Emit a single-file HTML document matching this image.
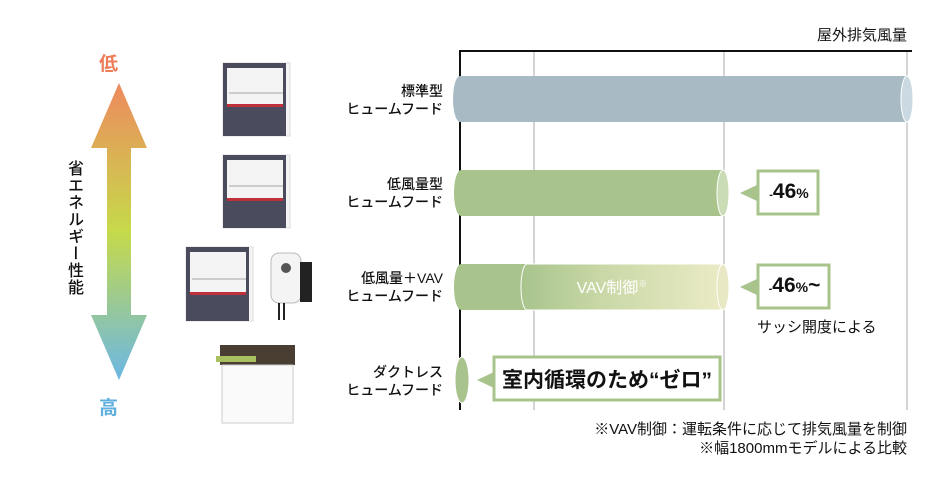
<!DOCTYPE html>
<html><head><meta charset="utf-8"><style>
body{margin:0;background:#fff;width:940px;height:480px;overflow:hidden;font-family:"Liberation Sans","Noto Sans CJK JP",sans-serif;}
.a{position:absolute}
.lbl{position:absolute;right:497px;text-align:right;font-size:14px;line-height:18px;color:#111;font-weight:500;white-space:nowrap}
</style></head><body>
<svg class="a" style="left:0;top:0" width="940" height="480">
<defs>
<linearGradient id="ag" x1="0" y1="0" x2="0" y2="1">
<stop offset="0" stop-color="#ee8a5e"/><stop offset="0.5" stop-color="#c6da4a"/><stop offset="1" stop-color="#6bb7e4"/></linearGradient>
<linearGradient id="vg" x1="0" y1="0" x2="1" y2="0">
<stop offset="0" stop-color="#a8c48c"/><stop offset="0.4" stop-color="#c9d8a6"/><stop offset="1" stop-color="#ebebc6"/></linearGradient>
</defs>
<polygon points="119,83 147,148 131,148 131,315 147,315 119,380 91,315 107,315 107,148 91,148" fill="url(#ag)"/>
<line x1="534" y1="52" x2="534" y2="410" stroke="#aaa" stroke-width="1"/>
<line x1="724" y1="52" x2="724" y2="410" stroke="#aaa" stroke-width="1"/>
<line x1="907" y1="52" x2="907" y2="410" stroke="#aaa" stroke-width="1"/>
<line x1="460" y1="51" x2="912" y2="51" stroke="#111" stroke-width="2"/>
<line x1="460" y1="50" x2="460" y2="410" stroke="#111" stroke-width="2"/>
<path d="M460,76 H907 V122 H460 A7,23 0 0 1 460,76Z" fill="#a8bbc5"/>
<ellipse cx="907" cy="99" rx="6" ry="23" fill="#cad9e2" stroke="#fff" stroke-width="1"/>
<path d="M461,170 H723 V216 H461 A7,23 0 0 1 461,170Z" fill="#a8c48c"/>
<ellipse cx="723" cy="193" rx="6" ry="23" fill="#cadcb6" stroke="#fff" stroke-width="1"/>
<path d="M461,264 H723 V310 H461 A7,23 0 0 1 461,264Z" fill="#a8c48c"/>
<path d="M527,264 H723 V310 H527 A6,23 0 0 1 527,264Z" fill="url(#vg)" stroke="#fff" stroke-width="1"/>
<ellipse cx="723" cy="287" rx="6" ry="23" fill="#e8e8c4" stroke="#fff" stroke-width="1"/>
<text x="612" y="293" font-size="16" fill="#fff" text-anchor="middle" font-family="Liberation Sans, Noto Sans CJK JP, sans-serif">VAV制御<tspan font-size="9" dy="-6">※</tspan></text>
<ellipse cx="462" cy="380" rx="7" ry="23" fill="#a8c48c" stroke="#fff"/>
<polygon points="740,193 757,185 757,201" fill="#a8c48c"/>
<rect x="758" y="171" width="60" height="43" fill="#fff" stroke="#a8c48c" stroke-width="3"/>
<polygon points="740,287 757,279 757,295" fill="#a8c48c"/>
<rect x="758" y="265" width="71" height="43" fill="#fff" stroke="#a8c48c" stroke-width="3"/>
<polygon points="477,380 494,372 494,388" fill="#a8c48c"/>
<rect x="494" y="357" width="226" height="43" fill="#fff" stroke="#a8c48c" stroke-width="3"/>
<g>
<rect x="223" y="63" width="67" height="73" fill="#f4f4f4" stroke="#ddd"/><rect x="223" y="63" width="62" height="5" rx="2" fill="#4a4c5e"/><rect x="223" y="63" width="4" height="73" fill="#4a4c5e"/><rect x="283" y="63" width="3" height="73" fill="#4a4c5e"/><rect x="229" y="92" width="54" height="2" fill="#ccc"/><rect x="227" y="104" width="56" height="3" fill="#c0303a"/><rect x="227" y="107" width="56" height="29" fill="#4a4c5e"/>
<rect x="223" y="155" width="67" height="73" fill="#f4f4f4" stroke="#ddd"/><rect x="223" y="155" width="62" height="5" rx="2" fill="#4a4c5e"/><rect x="223" y="155" width="4" height="73" fill="#4a4c5e"/><rect x="283" y="155" width="3" height="73" fill="#4a4c5e"/><rect x="229" y="185" width="54" height="2" fill="#ccc"/><rect x="227" y="198" width="56" height="3" fill="#c0303a"/><rect x="227" y="201" width="56" height="27" fill="#4a4c5e"/>
<rect x="186" y="247" width="67" height="74" fill="#f4f4f4" stroke="#ddd"/><rect x="186" y="247" width="62" height="5" rx="2" fill="#4a4c5e"/><rect x="186" y="247" width="4" height="74" fill="#4a4c5e"/><rect x="246" y="247" width="3" height="74" fill="#4a4c5e"/><rect x="192" y="278" width="54" height="2" fill="#ccc"/><rect x="190" y="292" width="56" height="3" fill="#c0303a"/><rect x="190" y="295" width="56" height="26" fill="#4a4c5e"/>
<rect x="271" y="253" width="30" height="50" rx="8" fill="#f4f4f4" stroke="#bbb"/><rect x="300" y="262" width="12" height="40" fill="#222"/><circle cx="286" cy="268" r="5" fill="#555"/><line x1="279" y1="303" x2="279" y2="320" stroke="#222" stroke-width="2"/><line x1="284" y1="303" x2="284" y2="320" stroke="#222" stroke-width="2"/>
<rect x="220" y="345" width="75" height="20" fill="#4a3e32"/><rect x="216" y="356" width="40" height="6" fill="#a8c060"/>
<rect x="222" y="365" width="71" height="58" fill="#fafafa" stroke="#ccc"/>
</g>
</svg>
<div class="a" style="left:99px;top:49px;font-size:19px;font-weight:bold;color:#ec7e5a">低</div>
<div class="a" style="left:99px;top:393px;font-size:19px;font-weight:bold;color:#5fb0dc">高</div>
<div class="a" style="left:63px;top:160px;writing-mode:vertical-rl;font-size:16px;letter-spacing:1px;font-weight:500;color:#111;line-height:20px">省エネルギー性能</div>
<div class="lbl" style="top:82px">標準型<br>ヒュームフード</div>
<div class="lbl" style="top:175px">低風量型<br>ヒュームフード</div>
<div class="lbl" style="top:269px">低風量＋VAV<br>ヒュームフード</div>
<div class="lbl" style="top:363px">ダクトレス<br>ヒュームフード</div>
<div class="a" style="right:33px;top:24px;font-size:15px;color:#111">屋外排気風量</div>
<div class="a" style="left:761px;top:180px;width:56px;text-align:center;font-size:21px;font-weight:bold;color:#111"><span style="font-size:11px">-</span>46<span style="font-size:14px">%</span></div>
<div class="a" style="left:761px;top:274px;width:67px;text-align:center;font-size:21px;font-weight:bold;color:#111"><span style="font-size:11px">-</span>46<span style="font-size:14px">%</span>~</div>
<div class="a" style="left:757px;top:316px;font-size:15px;color:#111">サッシ開度による</div>
<div class="a" style="left:494px;top:364px;width:226px;text-align:center;font-size:21px;font-weight:bold;color:#111">室内循環のため“ゼロ”</div>
<div class="a" style="right:33px;top:420px;font-size:15px;line-height:19px;text-align:right;color:#111">※VAV制御：運転条件に応じて排気風量を制御<br>※幅1800mmモデルによる比較</div>
</body></html>
